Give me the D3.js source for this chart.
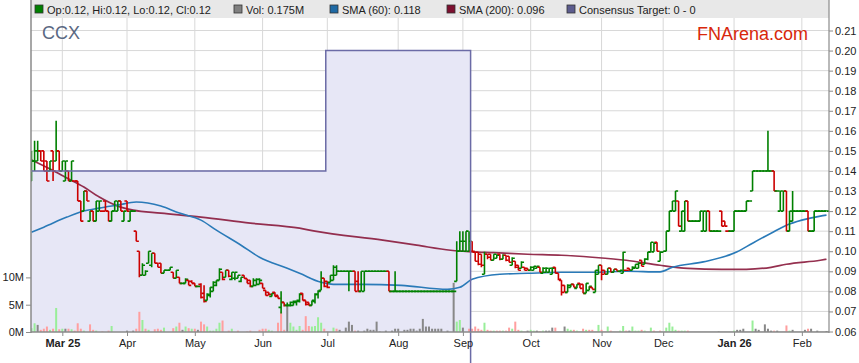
<!DOCTYPE html>
<html><head><meta charset="utf-8">
<script src="https://cdn.jsdelivr.net/npm/d3@7"></script>
<style>body{margin:0;background:#fff}svg{display:block;font-family:"Liberation Sans",Arial,sans-serif}</style>
</head><body><svg id="c" width="859" height="363"></svg>
<script>
// ---------- DATA ----------
const firstDay = "2025-02-17", lastDay = "2026-02-12"; // weekday axis
const opens = [
.135,.145,.145,.15,.15,.145,.14,.15,.145,.15, .14,.135,.14,.135,.135,.135,.125,.12,.13,.115,
.12,.115,.12,.12,.125,.12,.115,.12,.12,.125, .115,.125,.115,.12,.11,.10,.088,.088,.094,.093,
.099,.094,.094,.089,.0905,.0905,.0895,.0865,.087,.084, .084,.0855,.085,.084,.0825,.0835,.079,.0755,.078,.080,
.083,.0855,.0895,.087,.0905,.086,.0865,.0865,.085,.088, .0863,.0855,.0825,.083,.0835,.084,.0805,.0795,.0775,.0795,
.078,.072,.0745,.073,.073,.073,.0745,.075,.079,.0755, .0745,.073,.075,.0785,.0805,.0865,.085,.0845,.0855,.088,
.09,.09,.09,.09,.09,.09,.085,.08,.08,.09, .09,.09,.09,.09,.09,.09,.09,.08,.08,.08,
.08,.08,.08,.08,.08,.08,.08,.08,.08,.08, .08,.08,.08,.08,.08,.08,.08,.08,.085,.10,
.10,.10,.10,.10,.0995,.0995,.0985,.0885,.0985,.0985, .0955,.0965,.0985,.096,.098,.0975,.093,.095,.093,.0915,
.092,.0915,.0905,.0905,.0915,.092,.089,.0895,.0895,.0885, .092,.089,.0855,.083,.0795,.082,.0835,.0815,.084,.0835,
.079,.0805,.082,.0795,.0885,.093,.0905,.0885,.0915,.0895, .091,.09,.089,.0905,.0915,.0905,.0915,.0915,.0955,.0935,
.096,.0997,.0997,.1045,.095,.0995,.10,.11,.12,.12, .125,.11,.11,.125,.115,.115,.115,.115,.11,.11,
.12,.11,.11,.11,.12,.115,.11,.11,.11,.12, .12,.12,.12,.125,.13,.14,.14,.14,.14,.14,
.14,.14,.13,.12,.12,.13,.11,.115,.12,.12, .12,.12,.12,.11,.11,.12,.12,.12,.12];
const highs = [
.15,.155,.155,.15,.15,.145,.145,.15,.165,.15, .145,.145,.14,.145,.135,.135,.125,.13,.13,.12,
.12,.125,.125,.12,.125,.12,.12,.125,.125,.125, .12,.125,.12,.12,.11,.10,.094,.0905,.10,.099,
.099,.094,.094,.0905,.0905,.092,.0895,.0905,.087,.084, .0865,.0855,.0855,.084,.0825,.084,.083,.079,.082,.085,
.0855,.0915,.0895,.0905,.0905,.0895,.0895,.088,.087,.088, .0863,.0855,.0865,.0865,.0865,.084,.0805,.0795,.079,.0795,
.078,.080,.0745,.0745,.075,.0755,.0755,.079,.079,.0755, .0745,.0755,.079,.0805,.090,.0865,.085,.088,.093,.093,
.09,.09,.09,.09,.09,.09,.09,.09,.09,.09, .09,.09,.09,.09,.09,.09,.09,.08,.09,.08,
.08,.08,.08,.08,.08,.08,.08,.08,.08,.08, .08,.08,.08,.08,.08,.08,.08,.08,.105,.11,
.11,.11,.11,.105,.0995,.0995,.0985,.0997,.0985,.0985, .0985,.0985,.0985,.0985,.098,.0975,.097,.095,.093,.095,
.092,.0915,.0925,.0925,.0925,.092,.092,.092,.0915,.092, .092,.089,.0855,.083,.0835,.0835,.0835,.0835,.084,.0835,
.084,.0825,.082,.0905,.093,.093,.0905,.0915,.0915,.091, .091,.0905,.0997,.0905,.0915,.0925,.0935,.0945,.0955,.0965,
.0997,.1045,.1045,.1045,.10,.10,.11,.12,.125,.13, .125,.12,.125,.125,.115,.115,.115,.12,.12,.12,
.12,.11,.11,.11,.12,.115,.11,.11,.12,.12, .12,.12,.125,.125,.14,.14,.14,.14,.14,.16,
.14,.14,.13,.13,.13,.13,.12,.13,.12,.12, .12,.12,.12,.11,.12,.12,.12,.12,.12];
const lows = [
.135,.14,.145,.145,.14,.135,.14,.135,.145,.14, .14,.135,.135,.135,.135,.125,.115,.12,.125,.115,
.115,.115,.12,.12,.12,.115,.115,.12,.12,.12, .115,.12,.115,.12,.105,.087,.088,.088,.094,.092,
.094,.092,.089,.089,.0905,.0905,.0865,.0865,.084,.084, .084,.083,.084,.0825,.0825,.0765,.0745,.0755,.077,.080,
.0825,.0855,.0855,.087,.087,.0855,.0855,.0865,.0845,.0865, .084,.082,.0825,.083,.0835,.0815,.078,.078,.0775,.0775,
.0765,.069,.0725,.0725,.0725,.073,.073,.0745,.0755,.073, .073,.073,.074,.0765,.0805,.082,.0815,.0845,.0855,.088,
.09,.09,.09,.08,.09,.08,.08,.08,.08,.09, .09,.09,.09,.09,.09,.09,.08,.08,.08,.08,
.08,.08,.08,.08,.08,.08,.08,.08,.08,.08, .08,.08,.08,.08,.08,.08,.08,.08,.085,.10,
.10,.10,.10,.10,.095,.093,.092,.0885,.096,.0955, .0955,.0965,.0955,.096,.095,.0945,.093,.0915,.0905,.0915,
.0905,.0905,.0905,.0905,.0915,.0895,.089,.0895,.0895,.0885, .089,.0855,.078,.0795,.0795,.082,.082,.0815,.0815,.079,
.079,.0805,.081,.0795,.0885,.0855,.0885,.0885,.0895,.0895, .09,.0895,.089,.0905,.0905,.0905,.0915,.0915,.0925,.0935,
.0955,.0997,.0997,.10,.095,.0995,.10,.11,.12,.12, .1125,.11,.11,.115,.115,.115,.115,.115,.11,.11,
.11,.11,.11,.11,.1125,.1125,.11,.11,.11,.12, .12,.12,.12,.125,.13,.14,.14,.14,.14,.14,
.14,.13,.13,.12,.12,.11,.11,.115,.12,.12, .12,.12,.11,.11,.11,.12,.12,.12,.12];
const closes = [
.145,.15,.15,.145,.14,.135,.145,.14,.15,.14, .145,.145,.135,.145,.135,.125,.115,.13,.125,.12,
.115,.125,.125,.12,.12,.115,.12,.125,.125,.12, .12,.12,.12,.12,.105,.088,.093,.09,.10,.099,
.094,.092,.089,.0905,.0905,.092,.0865,.0905,.084,.084, .086,.083,.084,.0825,.0825,.077,.075,.0785,.082,.0845,
.0855,.091,.086,.0905,.0875,.0895,.0895,.088,.087,.0865, .084,.0825,.0855,.086,.0855,.0815,.078,.0785,.079,.0775,
.0765,.0745,.073,.073,.0745,.075,.0755,.0785,.0755,.0735, .073,.0755,.0785,.080,.0865,.0825,.082,.088,.092,.090,
.09,.09,.09,.09,.09,.08,.08,.09,.09,.09, .09,.09,.09,.09,.09,.09,.08,.08,.08,.08,
.08,.08,.08,.08,.08,.08,.08,.08,.08,.08, .08,.08,.08,.08,.08,.08,.08,.08,.10,.105,
.105,.11,.105,.10,.095,.0935,.093,.0985,.097,.0955, .0985,.098,.096,.098,.0955,.0945,.0965,.092,.0905,.0945,
.0905,.0905,.092,.0925,.0925,.0895,.0915,.0915,.0915,.0915, .089,.086,.0795,.0795,.083,.0835,.082,.0835,.0815,.079,
.084,.0825,.081,.0905,.093,.0885,.0885,.0915,.0895,.091, .09,.0905,.0995,.0905,.0905,.092,.0935,.094,.0925,.096,
.0995,.1045,.104,.10,.0995,.10,.11,.12,.125,.13, .1125,.12,.125,.115,.115,.115,.115,.12,.12,.12,
.11,.11,.11,.11,.1125,.1125,.11,.11,.12,.12, .12,.12,.125,.125,.14,.14,.14,.14,.14,.14,
.14,.13,.13,.13,.13,.11,.12,.12,.12,.12, .12,.12,.11,.11,.12,.12,.12,.12,.12];
const volumesM = [
.7,1.6,1.3,.4,.6,1.0,.4,.6,4.4,.5, .6,.6,.6,.5,.25,1.6,.6,.25,0,1.4,
.4,.25,0,.1,0,.25,1.1,0,0,0, 0,.25,0,.25,.6,3.7,2.2,.6,.4,0,
.5,.6,.4,.8,0,0,.7,1.0,1.7,.4, 1.0,.7,.6,.6,.4,1.9,1.4,1.0,.25,.25,
.6,1.7,2.1,0,.25,.6,0,.25,0,0, .1,.25,0,0,.4,.6,.6,.4,.25,0,
1.7,3.7,.4,4.8,1.7,1.0,.4,1.1,.4,2.9, 1.1,1.0,1.1,2.7,1.7,.6,.1,0,.8,.6,
.4,0,.8,1.9,1.3,.25,.25,0,.25,.6, .4,.4,1.9,.1,0,.25,0,.25,.6,.6,
0,.4,.4,.6,.6,.25,.6,2.4,1.0,1.0, .6,.6,.6,.6,0,.25,0,9.0,1.9,2.2,
.8,0,.6,.6,1.0,.6,.4,1.7,.4,.25, .25,.25,.25,.25,.25,.8,.6,1.9,.4,.25,
0,.25,.4,.25,.25,.1,.25,.25,.25,.8, .8,0,0,1.0,.6,.4,.4,.25,0,.6,
.4,.4,.4,0,1.3,.4,0,1.0,.25,0, 0,.25,1.1,.25,.25,1.0,.25,.25,.4,.25,
0,.8,.25,0,.25,0,.8,1.7,1.0,.4, .25,.25,.25,.25,0,0,0,0,0,0,
0,0,0,.1,0,0,0,0,.25,.4, .4,.6,0,0,2.1,.6,.4,0,1.4,.6,
.25,.25,.25,0,0,1.2,.25,.4,0,0, 0,.4,.6,.6,0,.25,0,0,.175];
// moving averages: [weekday index, value]
const sma60Idx  = [0,4,11.5,17,22,28,34,42,48,55,60,68,74,83,87,94,98,107,120,135,139,143,152,161,172,182,193,204,208,218,229,234,240,245,250,256,258];
const sma60Val  = [.1095,.112,.117,.12,.1215,.123,.1245,.1225,.119,.1155,.1105,.103,.097,.0915,.089,.0845,.0835,.0835,.083,.081,.082,.086,.0885,.089,.0895,.0895,.09,.0897,.092,.0947,.0997,.104,.109,.113,.1155,.1175,.118];
const sma200Idx = [0,6,11.5,17,22,28,33,42,55,71,87,92,114,125,136,143,150,161,172,182,193,204,213,224,232,240,245,256,258];
const sma200Val = [.1455,.141,.1365,.132,.127,.1225,.1205,.119,.117,.114,.1115,.11,.1055,.103,.1005,.0997,.0993,.0985,.098,.097,.0955,.093,.0915,.091,.091,.092,.0935,.0955,.096];
const consensusFrom = ["2025-02-17","2025-07-01","2025-09-04"];
const consensusVal  = [0.14, 0.20, 0];
const priceTicks = [0.06,0.07,0.08,0.09,0.10,0.11,0.12,0.13,0.14,0.15,0.16,0.17,0.18,0.19,0.20,0.21];
const volTicks = [0,5,10];
const legendItems = [
  {label:"Op:0.12, Hi:0.12, Lo:0.12, Cl:0.12", color:"#008000"},
  {label:"Vol: 0.175M", color:"#808080"},
  {label:"SMA (60): 0.118", color:"#1f6aa5"},
  {label:"SMA (200): 0.096", color:"#7d1030"},
  {label:"Consensus Target: 0 - 0", color:"#5c5c8e"}
];
const ticker = "CCX", brand = "FNArena.com";

// ---------- CHART ----------
const P = {l:31, r:829, t:18, b:332};
const svg = d3.select("#c");
const parse = d3.timeParse("%Y-%m-%d");
const days = d3.timeDay.range(parse(firstDay), d3.timeDay.offset(parse(lastDay),1)).filter(d => d.getDay()%6 !== 0);
const N = days.length;
const idxOf = s => days.findIndex(d => +d === +parse(s));
const x = d3.scaleLinear().domain([0, N-1]).range([31.5, 826.5]);
const y = d3.scaleLinear().domain([0.06, 0.21]).range([331.5, 30.5]);
const yv = d3.scaleLinear().domain([0, 10]).range([332, 277.4]);

svg.append("defs").append("clipPath").attr("id","plot")
  .append("rect").attr("x",P.l).attr("y",P.t).attr("width",P.r-P.l).attr("height",P.b-P.t);

// legend bar
svg.append("rect").attr("x",P.l).attr("y",0).attr("width",P.r-P.l).attr("height",P.t).attr("fill","#e8e8e8");

// month ticks
const monthIdx = days.map((d,i)=> i>0 && d.getMonth()!==days[i-1].getMonth() ? i : -1).filter(i=>i>=0);
const g = svg.append("g");
g.selectAll(".vg").data(monthIdx).join("line").attr("x1",d=>x(d)).attr("x2",d=>x(d))
  .attr("y1",P.t).attr("y2",P.b).attr("stroke","#d8d8d8");
g.selectAll(".hg").data(priceTicks).join("line").attr("x1",P.l).attr("x2",P.r)
  .attr("y1",d=>y(d)).attr("y2",d=>y(d)).attr("stroke","#d8d8d8");

// consensus target
const cons = consensusFrom.map((s,k)=>({i: idxOf(s)-0.5, v: consensusVal[k]}));
const clipG = svg.append("g").attr("clip-path","url(#plot)");
clipG.append("path").datum(cons)
  .attr("d", d3.area().curve(d3.curveStepAfter).x(d=>x(d.i)).y0(P.b).y1(d=>Math.min(y(d.v),P.b)))
  .attr("fill","#e7e7f6");

// volume
const up = "#008000", dn = "#cc0000";
const volColor = i => i===0 ? "#99ee99" : closes[i]>closes[i-1] ? "#99ee99" : closes[i]<closes[i-1] ? "#ff9f9f" : "#888888";
clipG.selectAll(".vol").data(volumesM).join("rect")
  .attr("x",(d,i)=>x(i)-1).attr("width",2)
  .attr("y",d=>yv(d)).attr("height",d=>P.b-yv(d))
  .attr("fill",(d,i)=>volColor(i));

// SMAs
const sline = d3.line().curve(d3.curveMonotoneX).x(d=>x(d[0])).y(d=>y(d[1]));
clipG.append("path").datum(sma200Idx.map((v,k)=>[v,sma200Val[k]])).attr("d",sline)
  .attr("fill","none").attr("stroke","#8a1a3c").attr("stroke-width",1.7).attr("stroke-opacity",0.9);
clipG.append("path").datum(sma60Idx.map((v,k)=>[v,sma60Val[k]])).attr("d",sline)
  .attr("fill","none").attr("stroke","#2a7ab8").attr("stroke-width",1.6);

// consensus line (not clipped at bottom)
svg.append("path").datum(cons)
  .attr("d", d3.line().curve(d3.curveStepAfter).x(d=>Math.max(x(d.i),P.l)).y(d=>y(d.v)))
  .attr("fill","none").attr("stroke","#6b6ba6").attr("stroke-width",1.5);

// OHLC bars
const barColor = [];
closes.forEach((c,i)=>{
  const o = opens[i];
  let col;
  if (c>o) col=up; else if (c<o) col=dn;
  else col = (i>0 && c<closes[i-1]) ? dn : up;
  barColor.push(col);
});
clipG.selectAll(".bar").data(closes).join("path")
  .attr("d",(c,i)=>{
    const xc = x(i);
    return `M${xc},${y(highs[i])}V${y(lows[i])}M${xc-2.6},${y(opens[i])}H${xc}M${xc},${y(c)}H${xc+2.6}`;
  })
  .attr("fill","none").attr("stroke",(c,i)=>barColor[i]).attr("stroke-width",1.6);

// axes
const axCol = "#8a8a8a";
svg.append("line").attr("x1",P.l).attr("x2",P.l).attr("y1",0).attr("y2",P.b+1).attr("stroke",axCol).attr("stroke-width",1.5);
svg.append("line").attr("x1",P.r).attr("x2",P.r).attr("y1",0).attr("y2",P.b+1).attr("stroke",axCol).attr("stroke-width",1.2);
svg.append("line").attr("x1",P.l).attr("x2",P.r).attr("y1",P.b).attr("y2",P.b).attr("stroke",axCol).attr("stroke-width",1.5);

const ra = svg.append("g").attr("transform",`translate(${P.r},0)`)
  .call(d3.axisRight(y).tickValues(priceTicks).tickFormat(d3.format(".2f")).tickSize(4).tickPadding(2));
const la = svg.append("g").attr("transform",`translate(${P.l},0)`)
  .call(d3.axisLeft(yv).tickValues(volTicks).tickFormat(d=>d+"M").tickSize(5).tickPadding(2));
const fmtM = d3.timeFormat("%b"), fmtY = d3.timeFormat("%b %y");
const ba = svg.append("g").attr("transform",`translate(0,${P.b})`)
  .call(d3.axisBottom(x).tickValues(monthIdx)
    .tickFormat(i => (i===monthIdx[0] || days[i].getMonth()===0) ? fmtY(days[i]) : fmtM(days[i])).tickSize(4).tickPadding(3));
[ra,la,ba].forEach(a=>{
  a.select(".domain").remove();
  a.selectAll("line").attr("stroke",axCol);
  a.selectAll("text").attr("fill","#222").style("font-size","11px").style("font-family","'Liberation Sans',Arial,sans-serif");
});
ba.selectAll("text").style("font-weight",(i)=> (i===monthIdx[0] || days[i].getMonth()===0) ? "bold" : "normal");

// legend
const lx = [35, 234, 330, 447, 567];
legendItems.forEach((it,k)=>{
  svg.append("rect").attr("x",lx[k]).attr("y",5).attr("width",8).attr("height",8)
    .attr("fill",it.color).attr("stroke","#333").attr("stroke-width",0.8);
  svg.append("text").attr("x",lx[k]+12).attr("y",14).text(it.label)
    .style("font-size","11px").attr("fill","#222");
});

// titles
svg.append("text").attr("x",42).attr("y",39).text(ticker).style("font-size","18px").attr("fill","#5a6882");
svg.append("text").attr("x",808).attr("y",40).attr("text-anchor","end").text(brand).style("font-size","18px").attr("fill","#d8280c");
</script></body></html>
